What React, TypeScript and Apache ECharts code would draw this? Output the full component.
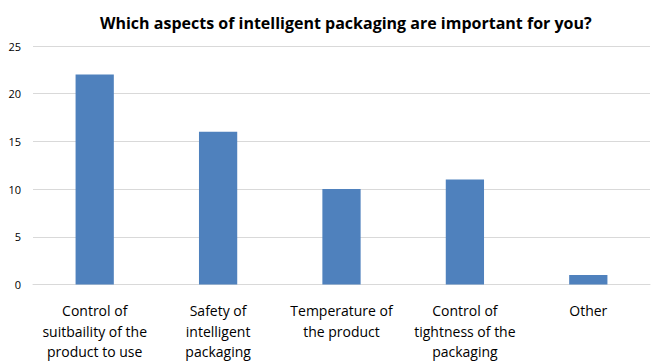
import React, { useEffect, useRef } from "react";
import * as echarts from "echarts";

const categories = [
  "Control of\nsuitbaility of the\nproduct to use",
  "Safety of\nintelligent\npackaging",
  "Temperature of\nthe product",
  "Control of\ntightness of the\npackaging",
  "Other",
];
const values = [22, 16, 10, 11, 1];
const titleText = "Which aspects of intelligent packaging are important for you?";

export default function App() {
  const ref = useRef<HTMLDivElement>(null);
  useEffect(() => {
    const chart = echarts.init(ref.current!, null, { renderer: "svg" });
    chart.setOption({
      animation: false,
      title: {
        text: titleText,
        left: 95,
        top: 10,
        textStyle: { fontFamily: "Open Sans", fontWeight: "bold", fontSize: 16, color: "#000" },
      },
      grid: { left: 33, right: 1, top: 46, bottom: 70, containLabel: false },
      xAxis: {
        type: "category",
        data: categories,
        axisLine: { lineStyle: { color: "#d9d9d9" } },
        axisTick: { show: false },
        axisLabel: {
          interval: 0,
          fontFamily: "Open Sans",
          fontSize: 14,
          color: "#000",
          margin: 16,
          lineHeight: 20.5,
        },
      },
      yAxis: {
        type: "value",
        min: 0,
        max: 25,
        interval: 5,
        axisLine: { show: false },
        axisTick: { show: false },
        splitLine: { lineStyle: { color: "#d9d9d9" } },
        axisLabel: { fontFamily: "Open Sans", fontSize: 11, color: "#000", margin: 12 },
      },
      series: [
        {
          type: "bar",
          data: values,
          barWidth: "31%",
          itemStyle: { color: "#4F81BD" },
        },
      ],
    });
    return () => chart.dispose();
  }, []);
  return <div ref={ref} style={{ width: 651, height: 362, position: "absolute", left: 0, top: 0 }} />;
}
